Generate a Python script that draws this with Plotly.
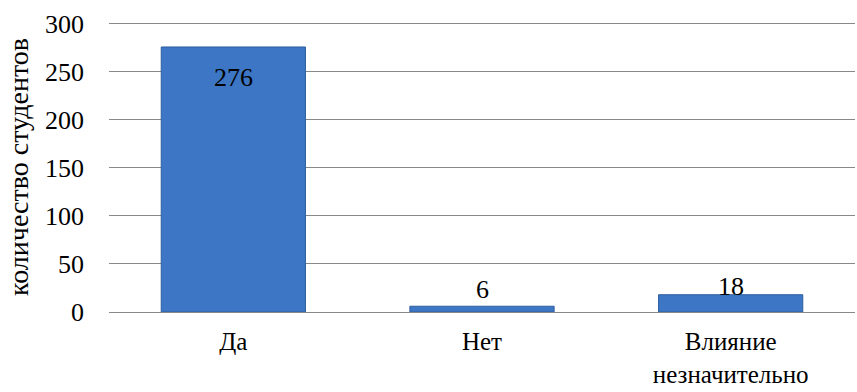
import plotly.graph_objects as go

categories = ["Да", "Нет", "Влияние<br>незначительно"]
values = [276, 6, 18]
value_labels = ["276", "6", "18"]
y_ticks = [0, 50, 100, 150, 200, 250, 300]

FONT = "'Times New Roman', 'Liberation Serif', 'DejaVu Serif', serif"

fig = go.Figure()
fig.add_trace(go.Bar(
    x=categories, y=values,
    width=0.58,
    marker=dict(color="#3C76C4", line=dict(color="#2F5F9E", width=1)),
    hoverinfo="skip",
))

# value labels
shifts = [-31, 17, 8]
for c, v, t, s in zip(categories, values, value_labels, shifts):
    fig.add_annotation(x=c, y=v, text=t, showarrow=False, yshift=s,
                       font=dict(family=FONT, size=26, color="black"))

fig.update_layout(
    width=857, height=392,
    margin=dict(l=109, r=2, t=22, b=80),
    paper_bgcolor="white", plot_bgcolor="white",
    showlegend=False,
    font=dict(family=FONT, size=26, color="black"),
)
fig.update_xaxes(
    showgrid=False, showline=False, zeroline=False,
    tickfont=dict(family=FONT, size=25),
    ticklabelstandoff=12,
    automargin=False,
)
fig.update_yaxes(
    range=[0, 302], tickvals=y_ticks,
    showgrid=True, gridcolor="#888888", gridwidth=1,
    zeroline=True, zerolinecolor="#888888", zerolinewidth=1,
    showline=False,
    tickfont=dict(family=FONT, size=26),
    ticklabelstandoff=24,
    automargin=False,
    title=dict(text="количество студентов", font=dict(family=FONT, size=28), standoff=8),
)

fig.write_html("out.html")
